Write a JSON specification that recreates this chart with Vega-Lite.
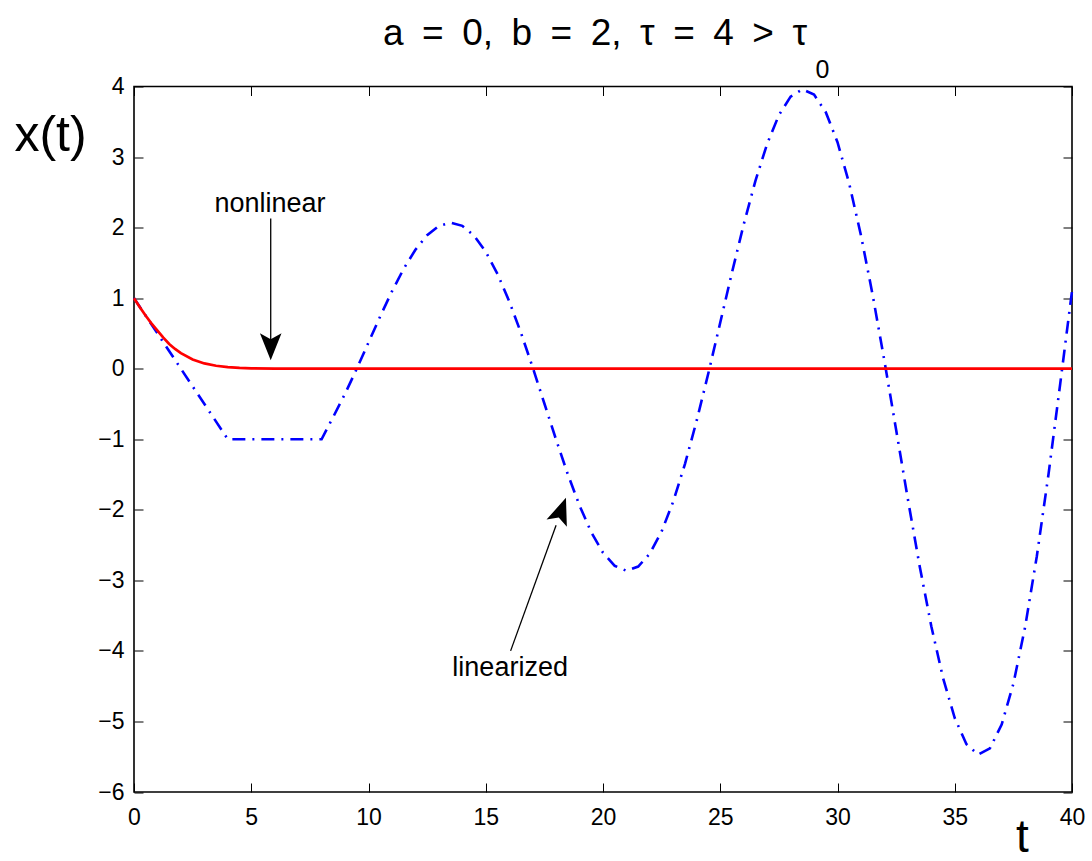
{
  "$schema": "https://vega.github.io/schema/vega-lite/v6.json",
  "width": 938,
  "height": 705.5,
  "autosize": {"type": "none"},
  "padding": {"left": 134, "top": 86.5, "right": 20, "bottom": 69},
  "background": "white",
  "config": {
    "font": "Liberation Sans",
    "view": {"stroke": "black", "strokeWidth": 1.6},
    "axis": {
      "domain": false,
      "grid": false,
      "ticks": true,
      "tickColor": "black",
      "tickWidth": 1,
      "tickSize": -9,
      "labelFont": "Liberation Sans",
      "labelFontSize": 23,
      "labelColor": "black",
      "labelFlush": false,
      "labelOverlap": false,
      "titleFont": "Liberation Sans",
      "titleFontWeight": "normal",
      "titleColor": "black"
    }
  },
  "title": {
    "text": "a\u2002=\u20020,\u2002b\u2002=\u20022,\u2002τ\u2002=\u20024\u2002>\u2002τ",
    "font": "Liberation Sans",
    "fontSize": 37,
    "fontWeight": "normal",
    "color": "black",
    "anchor": "middle",
    "baseline": "alphabetic",
    "dx": -8,
    "dy": 29,
    "offset": 5
  },
  "datasets": {
    "linearized": [
      {"t": 0, "x": 1}, {"t": 4, "x": -1}, {"t": 8, "x": -1},
      {"t": 8.5, "x": -0.681}, {"t": 9, "x": -0.355}, {"t": 9.5, "x": 0},
      {"t": 10, "x": 0.371}, {"t": 10.5, "x": 0.742}, {"t": 11, "x": 1.096},
      {"t": 11.5, "x": 1.416}, {"t": 12, "x": 1.686}, {"t": 12.5, "x": 1.893},
      {"t": 13, "x": 2.024}, {"t": 13.5, "x": 2.07}, {"t": 14, "x": 2.025},
      {"t": 14.5, "x": 1.887}, {"t": 15, "x": 1.658}, {"t": 15.5, "x": 1.344},
      {"t": 16, "x": 0.956}, {"t": 16.5, "x": 0.51}, {"t": 17, "x": 0.02},
      {"t": 17.5, "x": -0.493}, {"t": 18, "x": -1.006}, {"t": 18.5, "x": -1.497},
      {"t": 19, "x": -1.941}, {"t": 19.5, "x": -2.319}, {"t": 20, "x": -2.609},
      {"t": 20.5, "x": -2.794}, {"t": 21, "x": -2.865}, {"t": 21.5, "x": -2.805},
      {"t": 22, "x": -2.619}, {"t": 22.5, "x": -2.307}, {"t": 23, "x": -1.878},
      {"t": 23.5, "x": -1.345}, {"t": 24, "x": -0.73}, {"t": 24.5, "x": -0.054},
      {"t": 25, "x": 0.654}, {"t": 25.5, "x": 1.364}, {"t": 26, "x": 2.044},
      {"t": 26.5, "x": 2.662}, {"t": 27, "x": 3.188}, {"t": 27.5, "x": 3.594},
      {"t": 28, "x": 3.856}, {"t": 28.5, "x": 3.96}, {"t": 29, "x": 3.885},
      {"t": 29.5, "x": 3.636}, {"t": 30, "x": 3.211}, {"t": 30.5, "x": 2.623},
      {"t": 31, "x": 1.891}, {"t": 31.5, "x": 1.044}, {"t": 32, "x": 0.112},
      {"t": 32.5, "x": -0.866}, {"t": 33, "x": -1.848}, {"t": 33.5, "x": -2.792},
      {"t": 34, "x": -3.65}, {"t": 34.5, "x": -4.383}, {"t": 35, "x": -4.952},
      {"t": 35.5, "x": -5.322}, {"t": 36, "x": -5.471}, {"t": 36.5, "x": -5.381},
      {"t": 37, "x": -5.045}, {"t": 37.5, "x": -4.466}, {"t": 38, "x": -3.662},
      {"t": 38.5, "x": -2.658}, {"t": 39, "x": -1.492}, {"t": 39.5, "x": -0.207},
      {"t": 40, "x": 1.1}
    ],
    "nonlinear": [
      {"t": 0, "x": 1}, {"t": 0.25, "x": 0.87}, {"t": 0.5, "x": 0.75},
      {"t": 0.75, "x": 0.64}, {"t": 1, "x": 0.54}, {"t": 1.25, "x": 0.44},
      {"t": 1.5, "x": 0.35}, {"t": 1.75, "x": 0.28}, {"t": 2, "x": 0.22},
      {"t": 2.5, "x": 0.13}, {"t": 3, "x": 0.075}, {"t": 3.5, "x": 0.042},
      {"t": 4, "x": 0.023}, {"t": 4.5, "x": 0.012}, {"t": 5, "x": 0.006},
      {"t": 6, "x": 0.002}, {"t": 7, "x": 0.0005}, {"t": 8, "x": 0},
      {"t": 40, "x": 0}
    ],
    "arrows": [
      {"t0": 5.83, "v0": 2.13, "t1": 5.83, "v1": 0.35},
      {"t0": 16.06, "v0": -4.0, "t1": 18.0, "v1": -2.22}
    ],
    "labels": [
      {"t": 5.8, "v": 2.215, "label": "nonlinear"},
      {"t": 16.04, "v": -4.36, "label": "linearized"}
    ]
  },
  "layer": [
    {
      "data": {"name": "linearized"},
      "mark": {"type": "line", "color": "#0000ff", "strokeWidth": 2.6, "strokeDash": [13, 7, 2, 7]},
      "encoding": {
        "x": {"field": "t", "type": "quantitative",
          "scale": {"domain": [0, 40], "nice": false, "zero": false},
          "axis": {"orient": "bottom", "values": [0, 5, 10, 15, 20, 25, 30, 35, 40], "labelPadding": 23,
            "title": "t", "titleFontSize": 46, "titleX": 888, "titleY": 59, "titleAlign": "center", "titleBaseline": "alphabetic"}},
        "y": {"field": "x", "type": "quantitative",
          "scale": {"domain": [-6, 4], "nice": false, "zero": false},
          "axis": {"orient": "left", "values": [-6, -5, -4, -3, -2, -1, 0, 1, 2, 3, 4], "labelPadding": 19,
            "title": "x(t)", "titleFontSize": 50, "titleAngle": 0, "titleX": -84, "titleY": 64, "titleAlign": "center", "titleBaseline": "alphabetic"}}
      }
    },
    {
      "data": {"name": "nonlinear"},
      "mark": {"type": "line", "color": "#ff0000", "strokeWidth": 2.7},
      "encoding": {
        "x": {"field": "t", "type": "quantitative",
          "scale": {"domain": [0, 40], "nice": false, "zero": false},
          "axis": {"orient": "top", "values": [0, 5, 10, 15, 20, 25, 30, 35, 40], "labels": false, "title": null}},
        "y": {"field": "x", "type": "quantitative",
          "scale": {"domain": [-6, 4], "nice": false, "zero": false},
          "axis": {"orient": "right", "values": [-6, -5, -4, -3, -2, -1, 0, 1, 2, 3, 4], "labels": false, "title": null}}
      }
    },
    {
      "data": {"name": "arrows"},
      "mark": {"type": "rule", "color": "black", "strokeWidth": 1.3},
      "encoding": {
        "x": {"field": "t0", "type": "quantitative", "scale": {"domain": [0, 40], "nice": false, "zero": false}, "axis": null},
        "y": {"field": "v0", "type": "quantitative", "scale": {"domain": [-6, 4], "nice": false, "zero": false}, "axis": null},
        "x2": {"field": "t1"},
        "y2": {"field": "v1"}
      }
    },
    {
      "data": {"values": [{"t": 5.83, "v": 0.12}]},
      "mark": {"type": "point", "shape": "M0,0L-0.4,-1L0,-0.78L0.4,-1Z", "size": 2916, "filled": true, "color": "black", "opacity": 1, "strokeWidth": 0, "angle": 0},
      "encoding": {
        "x": {"field": "t", "type": "quantitative", "scale": {"domain": [0, 40], "nice": false, "zero": false}, "axis": null},
        "y": {"field": "v", "type": "quantitative", "scale": {"domain": [-6, 4], "nice": false, "zero": false}, "axis": null}
      }
    },
    {
      "data": {"values": [{"t": 18.42, "v": -1.83}]},
      "mark": {"type": "point", "shape": "M0,0L-0.4,-1L0,-0.78L0.4,-1Z", "size": 2916, "filled": true, "color": "black", "opacity": 1, "strokeWidth": 0, "angle": 200},
      "encoding": {
        "x": {"field": "t", "type": "quantitative", "scale": {"domain": [0, 40], "nice": false, "zero": false}, "axis": null},
        "y": {"field": "v", "type": "quantitative", "scale": {"domain": [-6, 4], "nice": false, "zero": false}, "axis": null}
      }
    },
    {
      "data": {"name": "labels"},
      "mark": {"type": "text", "font": "Liberation Sans", "fontSize": 27, "color": "black", "align": "center", "baseline": "alphabetic"},
      "encoding": {
        "x": {"field": "t", "type": "quantitative", "scale": {"domain": [0, 40], "nice": false, "zero": false}, "axis": null},
        "y": {"field": "v", "type": "quantitative", "scale": {"domain": [-6, 4], "nice": false, "zero": false}, "axis": null},
        "text": {"field": "label"}
      }
    },
    {
      "data": {"values": [{"t": 29.36, "v": 4.12, "label": "0"}]},
      "mark": {"type": "text", "font": "Liberation Sans", "fontSize": 25, "color": "black", "align": "center", "baseline": "alphabetic"},
      "encoding": {
        "x": {"field": "t", "type": "quantitative", "scale": {"domain": [0, 40], "nice": false, "zero": false}, "axis": null},
        "y": {"field": "v", "type": "quantitative", "scale": {"domain": [-6, 4], "nice": false, "zero": false}, "axis": null},
        "text": {"field": "label"}
      }
    }
  ],
  "resolve": {"axis": {"x": "independent", "y": "independent"}}
}
